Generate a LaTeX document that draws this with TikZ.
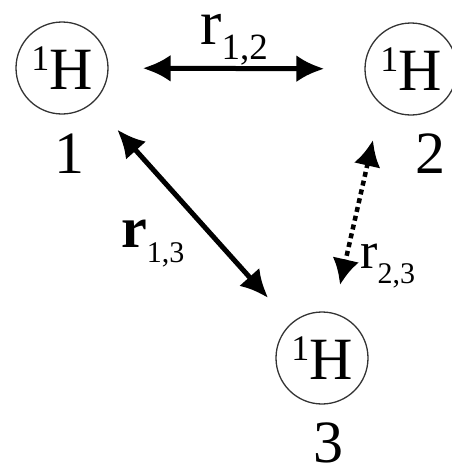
\documentclass[tikz,border=0pt]{standalone}
\usepackage{fontspec}
\setmainfont{Liberation Serif}
\usetikzlibrary{arrows.meta}
\newcommand{\hlab}{\raisebox{19pt}{\fontsize{36pt}{36pt}\selectfont 1}H}
\tikzset{
  hnode/.style={circle,draw=black!80,line width=1.3pt,inner sep=0pt,minimum size=92pt,font=\fontsize{60pt}{60pt}\selectfont},
  numlab/.style={anchor=base,inner sep=0pt,font=\fontsize{60pt}{60pt}\selectfont},
  rlab/.style={anchor=base west,inner sep=0pt},
  dbl/.style={line width=5pt,{Latex[length=28pt,width=27pt]}-{Latex[length=28pt,width=27pt]}},
  dotarrow/.style={line width=4.5pt,dash pattern=on 5pt off 4pt,{Latex[length=26pt,width=27pt]}-{Latex[length=26pt,width=27pt]}}
}
\begin{document}
\begin{tikzpicture}
\useasboundingbox (0,0) rectangle (452pt,-466pt);
\node[hnode] (h1) at (62pt,-68pt) {\hlab};
\node[hnode] (h2) at (411pt,-69pt) {\hlab};
\node[hnode] (h3) at (322pt,-358pt) {\hlab};
\node[numlab] (n1) at (69pt,-173pt) {1};
\node[numlab] (n2) at (430pt,-173pt) {2};
\node[numlab] (n3) at (328pt,-462pt) {3};
\node[rlab] (r12) at (200pt,-44pt) {{\fontsize{64pt}{64pt}\selectfont r}\raisebox{-15pt}{\fontsize{37pt}{37pt}\selectfont 1,2}};
\node[rlab] (r13) at (121pt,-247pt) {{\fontsize{58pt}{58pt}\selectfont\bfseries r}\raisebox{-15pt}{\fontsize{30pt}{30pt}\selectfont 1,3}};
\node[rlab] (r23) at (360pt,-268pt) {{\fontsize{52pt}{52pt}\selectfont r}\raisebox{-15pt}{\fontsize{30pt}{30pt}\selectfont 2,3}};
\coordinate (a23) at (373pt,-140pt);
\coordinate (b23) at (340pt,-285pt);
\draw[dbl,shorten <=34pt,shorten >=40pt] (h1) -- (h2);
\draw[dbl,shorten <=36pt,shorten >=34pt] (h1) -- (h3);
\draw[dotarrow] (a23) -- (b23);
\end{tikzpicture}
\end{document}
